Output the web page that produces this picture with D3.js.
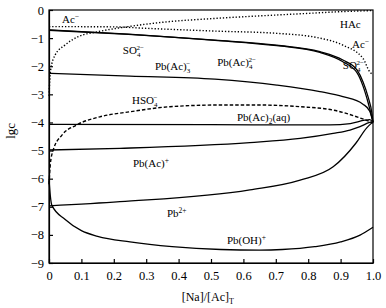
<!DOCTYPE html>
<html>
<head>
<meta charset="utf-8">
<script src="https://d3js.org/d3.v7.min.js"></script>
<style>
  body { margin: 0; background: #fff; }
  svg text { font-family: "Liberation Serif", "Times New Roman", serif; fill: #000; }
</style>
</head>
<body>
<div id="chart"></div>
<script>
// 各组分浓度对数 lgc 随 [Na]/[Ac]T 的变化（读图估计值）
const xTicks = [0, 0.1, 0.2, 0.3, 0.4, 0.5, 0.6, 0.7, 0.8, 0.9, 1.0];
const yTicks = [0, -1, -2, -3, -4, -5, -6, -7, -8, -9];

const hacRise = [[0,-3.05],[0.005,-2.14],[0.019,-1.6],[0.049,-1.25],[0.09,-0.95],[0.152,-0.77],
  [0.245,-0.59],[0.348,-0.44],[0.512,-0.30],[0.70,-0.18],[0.8,-0.12],[0.9,-0.06],[1.0,-0.02]];
const acFlat = [[0,-0.59],[0.2,-0.6],[0.296,-0.65],[0.512,-0.75],[0.703,-0.83],[0.836,-1.0],
  [0.907,-1.25],[0.969,-1.72],[0.99,-2.2],[1.0,-2.3]];
const so4 = [[0,-0.71],[0.245,-0.86],[0.512,-1.07],[0.703,-1.25],[0.836,-1.48],[0.907,-1.78],
  [0.951,-2.14],[0.969,-2.55],[0.985,-3.1],[0.997,-3.7],[1.0,-4.0]];
const pbAc4 = [[0,-0.72],[0.245,-0.87],[0.512,-1.08],[0.703,-1.27],[0.836,-1.51],[0.907,-1.84],
  [0.951,-2.24],[0.969,-2.7],[0.985,-3.3],[0.997,-3.85],[1.0,-4.0]];
const pbAc3 = [[0,-2.25],[0.25,-2.35],[0.512,-2.46],[0.703,-2.67],[0.836,-2.9],[0.907,-3.08],
  [0.969,-3.35],[0.99,-3.6],[1.0,-3.98]];
const hso4 = [[0,-6.2],[0.004,-5.5],[0.013,-4.98],[0.04,-4.45],[0.085,-4.09],[0.157,-3.8],[0.25,-3.62],
  [0.373,-3.44],[0.528,-3.38],[0.651,-3.38],[0.775,-3.44],[0.877,-3.56],[0.96,-3.84],[0.99,-3.97],[1.0,-4.02]];
const pbAc2 = [[0,-4.07],[0.5,-4.08],[0.867,-4.09],[0.93,-4.04],[0.975,-3.92],[0.99,-3.9],[1.0,-3.99]];
const pbAc1 = [[0,-4.98],[0.219,-4.92],[0.62,-4.72],[0.775,-4.57],[0.877,-4.39],[0.929,-4.27],
  [0.96,-4.15],[0.99,-4.0],[1.0,-3.98]];
const pb2 = [[0,-6.97],[0.219,-6.82],[0.62,-6.4],[0.775,-6.05],[0.877,-5.58],[0.947,-4.74],
  [0.98,-4.2],[1.0,-3.98]];
const pbOH = [[0,-6.0],[0.004,-6.6],[0.009,-6.95],[0.05,-7.45],[0.1,-7.85],[0.15,-8.05],[0.25,-8.25],
  [0.38,-8.42],[0.53,-8.52],[0.65,-8.54],[0.72,-8.52],[0.82,-8.42],[0.9,-8.25],[0.96,-8.01],[1.0,-7.73]];

const series = [
  {data: hacRise, style: "dot"},
  {data: acFlat, style: "dot"},
  {data: so4, style: "solid"},
  {data: pbAc4, style: "solid"},
  {data: pbAc3, style: "solid"},
  {data: hso4, style: "dash"},
  {data: pbAc2, style: "solid"},
  {data: pbAc1, style: "solid"},
  {data: pb2, style: "solid"},
  {data: pbOH, style: "solid"}
];

// 标注：[x, y, 文本片段]，片段 ["b"]=基线, ["sub"], ["sup"], ["stack", 下标, 上标]
const labels = [
  [0.04, -0.46, [["b","Ac"],["sup","−"]]],
  [0.228, -1.57, [["b","SO"],["stack","4","2−"]]],
  [0.327, -2.14, [["b","Pb(Ac)"],["stack","3","−"]]],
  [0.519, -1.99, [["b","Pb(Ac)"],["stack","4","2−"]]],
  [0.898, -0.64, [["b","HAc"]]],
  [0.935, -1.35, [["b","Ac"],["sup","−"]]],
  [0.907, -2.1, [["b","SO"],["stack","4","2−"]]],
  [0.256, -3.35, [["b","HSO"],["stack","4","−"]]],
  [0.58, -3.95, [["b","Pb(Ac)"],["sub","2"],["b","(aq)"]]],
  [0.259, -5.59, [["b","Pb(Ac)"],["sup","+"]]],
  [0.364, -7.37, [["b","Pb"],["sup","2+"]]],
  [0.549, -8.33, [["b","Pb(OH)"],["sup","+"]]]
];

const W = 386, H = 308;
const margin = {top: 10, right: 13, bottom: 45, left: 49};
const serif = '"Liberation Serif", "Times New Roman", serif';

const svg = d3.select("#chart").append("svg")
  .attr("width", W).attr("height", H);

const x = d3.scaleLinear().domain([0, 1]).range([margin.left, W - margin.right]);
const y = d3.scaleLinear().domain([-9, 0]).range([H - margin.bottom, margin.top]);

// 曲线
const line = d3.line()
  .x(d => x(d[0]))
  .y(d => y(d[1]))
  .curve(d3.curveMonotoneX);

const dashes = {solid: null, dot: "1.3,1.9", dash: "3.5,2"};

svg.append("g").selectAll("path")
  .data(series)
  .join("path")
  .attr("d", d => line(d.data))
  .attr("fill", "none")
  .attr("stroke", "#000")
  .attr("stroke-width", d => d.style === "solid" ? 1.3 : 1.4)
  .attr("stroke-dasharray", d => dashes[d.style]);

// 坐标轴（刻度朝内）
const xAxis = svg.append("g")
  .attr("transform", `translate(0,${y(-9)})`)
  .attr("font-family", serif)
  .call(d3.axisBottom(x).tickValues(xTicks).tickSizeInner(-4).tickSizeOuter(0)
    .tickFormat(d => d === 0 ? "0" : d3.format(".1f")(d)));
xAxis.attr("font-family", serif);
xAxis.selectAll("text").attr("dy", "1.15em").style("font-size", "12.5px");

const yAxis = svg.append("g")
  .attr("transform", `translate(${x(0)},0)`)
  .call(d3.axisLeft(y).tickValues(yTicks).tickSizeInner(-4).tickSizeOuter(0)
    .tickFormat(d => d === 0 ? "0" : "−" + Math.abs(d)));
yAxis.attr("font-family", serif);
yAxis.selectAll("text").attr("x", -5).style("font-size", "12.5px");

svg.selectAll(".domain, .tick line").attr("stroke", "#000").attr("stroke-width", 1.2);

// 外框
svg.append("rect")
  .attr("x", x(0)).attr("y", y(0))
  .attr("width", x(1) - x(0)).attr("height", y(-9) - y(0))
  .attr("fill", "none").attr("stroke", "#000").attr("stroke-width", 1.2);

// 标注文字
labels.forEach(([lx, ly, parts]) => {
  const t = svg.append("text")
    .attr("x", x(lx)).attr("y", y(ly))
    .style("font-size", "11px");
  let shift = 0;
  parts.forEach(p => {
    const kind = p[0];
    if (kind === "b") {
      t.append("tspan").attr("dy", -shift).text(p[1]);
      shift = 0;
    } else if (kind === "sub") {
      t.append("tspan").attr("dy", 3 - shift).style("font-size", "7.5px").text(p[1]);
      shift = 3;
    } else if (kind === "sup") {
      t.append("tspan").attr("dy", -4 - shift).style("font-size", "7.5px").text(p[1]);
      shift = -4;
    } else if (kind === "stack") {
      t.append("tspan").attr("dy", 3 - shift).style("font-size", "7px").text(p[1]);
      t.append("tspan").attr("dx", -3.9).attr("dy", -7).style("font-size", "7px").text(p[2]);
      shift = -4;
    }
  });
});

// 轴标题
svg.append("text")
  .attr("transform", `translate(15,${y(-4.3)}) rotate(-90)`)
  .attr("text-anchor", "middle")
  .style("font-size", "13px")
  .text("lgc");

const xl = svg.append("text")
  .attr("x", x(0.49)).attr("y", 301)
  .attr("text-anchor", "middle")
  .style("font-size", "12px");
xl.append("tspan").text("[Na]/[Ac]");
xl.append("tspan").attr("dy", 3).style("font-size", "8px").text("T");
</script>
</body>
</html>
